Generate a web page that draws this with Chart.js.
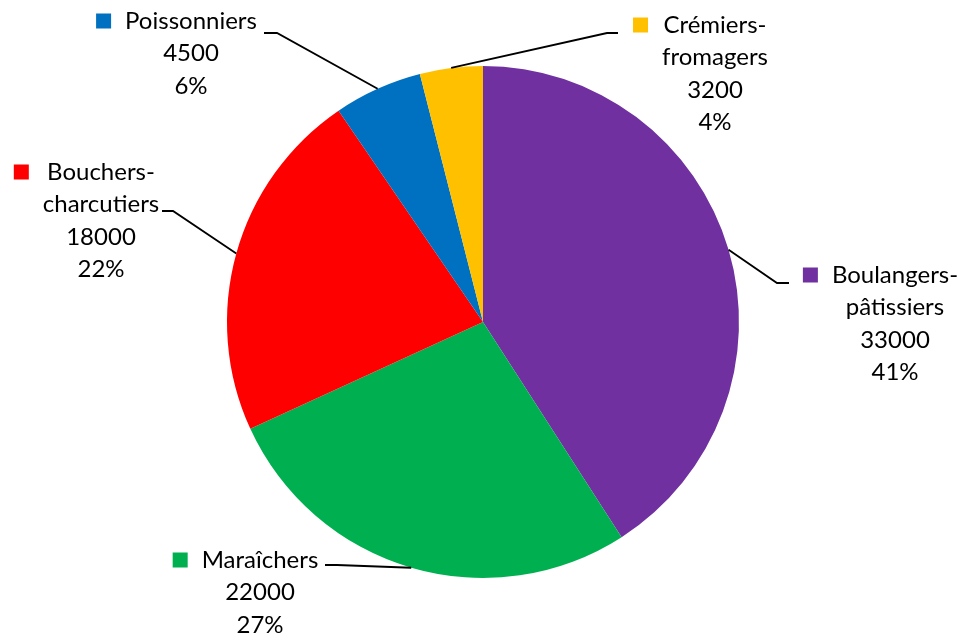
<!DOCTYPE html>
<html lang="fr">
<head>
    <meta charset="UTF-8">
    <title>Répartition des commerces alimentaires</title>
    <script src="https://cdn.jsdelivr.net/npm/chart.js"></script>
    <style>
        body {
            margin: 0;
            background: #fff;
        }
        #wrap {
            width: 965px;
            height: 636px;
        }
    </style>
</head>
<body>
    <div id="wrap"><canvas id="myChart"></canvas></div>

    <script>
        // Data
        const categories = ['Boulangers-pâtissiers', 'Maraîchers', 'Bouchers-charcutiers', 'Poissonniers', 'Crémiers-fromagers'];
        const values = [33000, 22000, 18000, 4500, 3200];
        const colors = ['#7030A0', '#00B050', '#FF0000', '#0070C0', '#FFC000'];

        // where each label block sits (text centre x, first line y) and where its leader line ends
        const labelPlaces = [
            { cx: 895, y: 275, end: [789, 283], elbow: [777, 283] },
            { cx: 260, y: 560, end: [325, 565], elbow: [337, 565] },
            { cx: 101, y: 172, end: [162, 211], elbow: [173, 211] },
            { cx: 191, y: 21,  end: [264, 33],  elbow: [277, 33] },
            { cx: 715, y: 25,  end: [618, 33],  elbow: [607, 33] }
        ];

        const FONT = '24px Lato, "Open Sans", sans-serif';
        const LINE_H = 32.5;

        const total = values.reduce((a, b) => a + b, 0);

        function labelLines(i) {
            const name = categories[i];
            const parts = name.includes('-') ? [name.slice(0, name.indexOf('-') + 1), name.slice(name.indexOf('-') + 1)] : [name];
            return parts.concat([String(values[i]), Math.round(values[i] / total * 100) + '%']);
        }

        const outsideLabels = {
            id: 'outsideLabels',
            afterDraw(chart) {
                const ctx = chart.ctx;
                const meta = chart.getDatasetMeta(0);
                ctx.save();
                ctx.font = FONT;
                ctx.textAlign = 'center';
                ctx.textBaseline = 'middle';
                meta.data.forEach((arc, i) => {
                    const p = arc.getProps(['x', 'y', 'startAngle', 'endAngle', 'outerRadius'], true);
                    const mid = (p.startAngle + p.endAngle) / 2;
                    const sx = p.x + Math.cos(mid) * p.outerRadius;
                    const sy = p.y + Math.sin(mid) * p.outerRadius;
                    const place = labelPlaces[i];

                    // leader line
                    ctx.strokeStyle = '#000';
                    ctx.lineWidth = 1.8;
                    ctx.beginPath();
                    ctx.moveTo(sx, sy);
                    ctx.lineTo(place.elbow[0], place.elbow[1]);
                    ctx.lineTo(place.end[0], place.end[1]);
                    ctx.stroke();

                    // text
                    const lines = labelLines(i);
                    const maxW = Math.max(...lines.map(l => ctx.measureText(l).width));
                    ctx.fillStyle = '#000';
                    lines.forEach((l, k) => ctx.fillText(l, place.cx, place.y + k * LINE_H));

                    // legend key square
                    ctx.fillStyle = colors[i];
                    ctx.fillRect(place.cx - maxW / 2 - 14 - 15, place.y - 7.5, 15, 15);
                });
                ctx.restore();
            }
        };

        new Chart(document.getElementById('myChart'), {
            type: 'pie',
            data: {
                labels: categories,
                datasets: [{
                    data: values,
                    backgroundColor: colors,
                    borderWidth: 0
                }]
            },
            options: {
                responsive: true,
                maintainAspectRatio: false,
                animation: false,
                layout: {
                    padding: { top: 66, bottom: 58, left: 1, right: 0 }
                },
                plugins: {
                    legend: { display: false },
                    tooltip: { enabled: false }
                }
            },
            plugins: [outsideLabels]
        });
    </script>
</body>
</html>
